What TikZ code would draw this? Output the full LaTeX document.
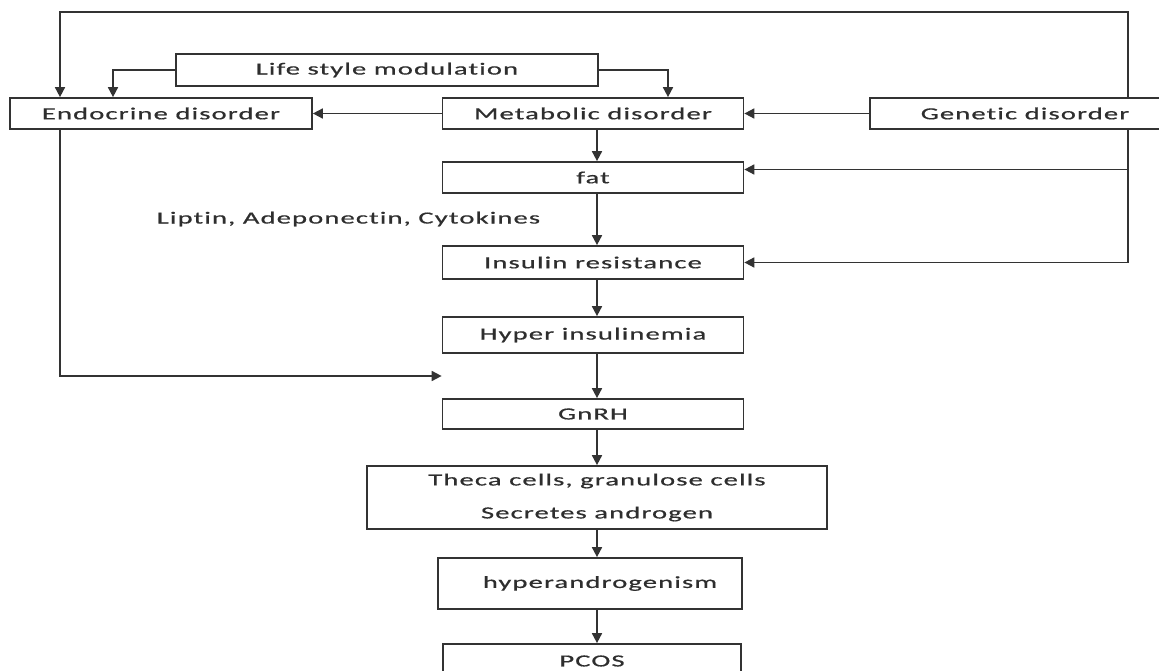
\documentclass[tikz,border=0pt]{standalone}
\usepackage{fontspec}
\usepackage{graphicx}
\setmainfont{Carlito}
\newfontfamily\boxfont[LetterSpace=4,Ligatures=NoCommon,FakeBold=0.5]{Carlito}
\usetikzlibrary{positioning,arrows.meta,calc}
\newcommand{\wtxt}[1]{\scalebox{1.68}[1]{\boxfont #1}}

\begin{document}
\begin{tikzpicture}[x=1pt,y=-1pt,
    box/.style={draw=black!80,line width=1.7pt,fill=white,inner sep=0pt,text=black!82,font=\fontsize{17}{20}\selectfont},
    lbl/.style={text=black!82,inner sep=0pt,font=\fontsize{17}{20}\selectfont},
    arr/.style={draw=black!80,line width=1.7pt,-{Triangle[length=10pt,width=10pt]}}]
            \clip (0,0) rectangle (1159,671);

            \node[box,minimum width=422pt,minimum height=32pt] (life) at (387,70) {\wtxt{Life style modulation}};
            \node[box,minimum width=302pt,minimum height=31pt] (endo) at (161,113.5) {\wtxt{Endocrine disorder}};
            \node[box,minimum width=301pt,minimum height=31pt] (meta) at (593,113.5) {\wtxt{Metabolic disorder}};
            \node[box,minimum width=310pt,minimum height=31pt] (gen)  at (1025,113.5) {\wtxt{Genetic disorder}};

            \node[box,minimum width=301pt,minimum height=31pt] (fat)  at (593,177.5) {\wtxt{fat}};
            \node[lbl] (adipo) at (348.5,219) {\wtxt{Liptin, Adeponectin, Cytokines}};
            \node[box,minimum width=301pt,minimum height=33pt] (ins)  at (593,262.5) {\wtxt{Insulin resistance}};
            \node[box,minimum width=301pt,minimum height=36pt] (hyp)  at (593,335) {\wtxt{Hyper insulinemia}};
            \node[box,minimum width=301pt,minimum height=30pt] (gnrh) at (593,414) {\wtxt{GnRH}};
            \node[box,minimum width=460pt,minimum height=63pt,align=center] (theca) at (597,497.5)
                {\wtxt{Theca cells, granulose cells}\\[13pt]\wtxt{Secretes androgen}};
            \node[box,minimum width=304pt,minimum height=51pt] (andro) at (590,583.5) {\hspace{20pt}\wtxt{hyperandrogenism}};
            \node[box,minimum width=298pt,minimum height=34pt] (pcos) at (592,661) {\wtxt{PCOS}};

            \coordinate (tl) at (60,12);
            \coordinate (tr) at (1128,12);
            \coordinate (ax) at (597,0);
            \coordinate (ein) at ($(hyp.south west)!.5!(gnrh.north west)$);

            \draw[arr] (gen.north -| tr) -- (tr) -- (tl) -- (endo.north -| tl);
            \draw[arr] (gen.south -| tr) |- (ins.east);
            \draw[arr] ([yshift=8pt]fat.east -| tr) -- ([yshift=8pt]fat.east);
            \draw[arr] (life.west) -| ([xshift=-48pt]endo.north);
            \draw[arr] (life.east) -| ([xshift=75pt]meta.north);
            \draw[arr] (meta.west) -- (endo.east);
            \draw[arr] (gen.west) -- (meta.east);
            \draw[arr] (endo.south -| tl) |- (ein);

            \foreach \a/\b in {meta/fat,fat/ins,ins/hyp,hyp/gnrh,gnrh/theca,theca/andro,andro/pcos}
                \draw[arr] (\a.south -| ax) -- (\b.north -| ax);
        \end{tikzpicture}
\end{document}
